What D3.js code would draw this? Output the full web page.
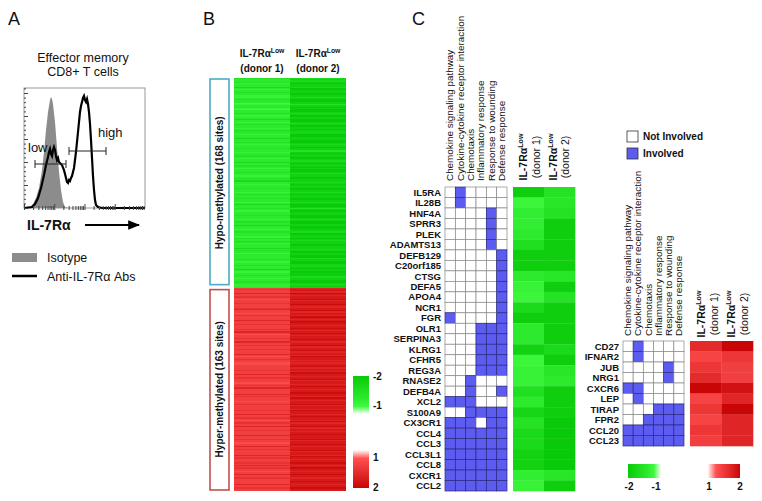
<!DOCTYPE html>
<html><head><meta charset="utf-8">
<script src="https://cdn.jsdelivr.net/npm/d3@7"></script>
<style>body{margin:0;background:#fff}svg{display:block}text{font-family:Arial,"Liberation Sans",sans-serif;fill:#111}</style>
</head><body><svg id="c" width="762" height="501"></svg>
<script>
// ---------------- DATA ----------------
// Panel A histogram (channel, count)
const isoX=[0,6,9,12,15,18,20,22,24,26,27,28,29,31,33,35,37,39,41,44,121];
const isoY=[0,1,4,10,20,38,56,78,96,108,111,109,104,86,60,36,18,6,1,0,0];
const abX=[0,8,11,14,17,20,22,24,25,26,27,28,29,30,31,32,33,34,35,36,38,40,42,43,44,45,46,47,48,49,50,51,52,53,54,55,56,57,58,59,60,61,62,63,64,65,66,67,68,69,70,71,72,74,78,121];
const abY=[0,1,4,10,20,33,43,51,56,59,54,52,58,61,58,52,48,50,46,45,43,38,30,26,25,28,27,30,32,36,40,48,56,66,76,86,96,102,106,110,112,108,106,109,104,96,84,68,50,32,18,8,3,1,0,0];
const gateLabels=["low","high"];
const gateLow=[11,42], gateHigh=[45,82];
const legendA=["Isotype","Anti-IL-7Rα Abs"];

// Panel B heatmap (log ratios)
const hypoDonor1=[-1.6,-1.5,-1.5,-1.6,-1.4,-1.5,-1.5,-1.7,-1.5,-1.4,-1.5,-1.6,
-1.5,-1.5,-1.4,-1.4,-1.5,-1.6,-1.5,-1.5,-1.3,-1.4,-1.5,-1.5,
-1.4,-1.3,-1.5,-1.5,-1.6,-1.5,-1.4,-1.5,-1.5,-1.7,-1.5,-1.4,
-1.5,-1.6,-1.5,-1.5,-1.4,-1.5,-1.6,-1.5,-1.5,-1.4,-1.5,-1.5,
-1.7,-1.5,-1.5,-1.6,-1.5,-1.4,-1.5,-1.5,-1.6,-1.5,-1.5,-1.4,
-1.5,-1.5,-1.6,-1.5,-1.4,-1.5,-1.5,-1.7,-1.5,-1.5,-1.6,-1.5,
-1.4,-1.5,-1.5,-1.6,-1.5,-1.5,-1.4,-1.5,-1.6,-1.5,-1.7,-1.5,
-1.5,-1.4,-1.5,-1.5,-1.6,-1.5,-1.5,-1.4,-1.5,-1.6,-1.5,-1.5,
-1.6,-1.5,-1.5,-1.4,-1.5,-1.7,-1.5,-1.5,-1.6,-1.5,-1.4,-1.5,
-1.5,-1.5,-1.6,-1.5,-1.5,-1.4,-1.5,-1.6,-1.5,-1.5,-1.7,-1.5,
-1.5,-1.4,-1.5,-1.6,-1.5,-1.5,-1.5,-1.4,-1.6,-1.5,-1.5,-1.6,
-1.4,-1.5,-1.5,-1.5,-1.7,-1.5,-1.6,-1.5,-1.4,-1.5,-1.5,-1.5,
-1.5,-1.6,-1.5,-1.4,-1.5,-1.5,-1.6,-1.5,-1.5,-1.7,-1.5,-1.4,
-1.5,-1.5,-1.6,-1.5,-1.4,-1.5,-1.5,-1.6,-1.5,-1.5,-1.4,-1.5];
const hypoDonor2=[-1.7,-1.8,-1.7,-1.8,-1.9,-1.8,-1.8,-1.7,-1.9,-1.9,-1.8,-1.8,
-1.9,-1.9,-1.8,-1.7,-1.8,-1.9,-1.9,-1.8,-1.8,-1.6,-1.8,-1.9,
-1.8,-1.9,-1.9,-1.8,-1.7,-1.8,-1.9,-1.8,-1.8,-1.9,-1.9,-1.8,
-1.7,-1.8,-1.9,-1.8,-1.8,-1.9,-1.8,-1.7,-1.8,-1.9,-1.9,-1.8,
-1.8,-1.8,-1.9,-1.9,-1.8,-1.7,-1.8,-1.9,-1.8,-1.8,-1.6,-1.8,
-1.9,-1.8,-1.8,-1.9,-1.9,-1.8,-1.7,-1.8,-1.9,-1.8,-1.8,-1.9,
-1.8,-1.9,-1.9,-1.8,-1.7,-1.8,-1.8,-1.9,-1.9,-1.8,-1.8,-1.7,
-1.8,-1.9,-1.8,-1.8,-1.9,-1.9,-1.8,-1.7,-1.8,-1.9,-1.8,-1.8,
-1.9,-1.9,-1.8,-1.7,-1.8,-1.9,-1.9,-1.8,-1.6,-1.8,-1.9,-1.8,
-1.8,-1.8,-1.9,-1.9,-1.8,-1.7,-1.8,-1.9,-1.9,-1.8,-1.8,-1.9,
-1.9,-1.8,-1.8,-1.7,-1.9,-1.9,-1.8,-1.8,-1.9,-1.8,-1.7,-1.8,
-1.8,-1.9,-1.9,-1.8,-1.8,-1.7,-1.8,-1.9,-1.8,-1.8,-1.9,-1.9,
-1.7,-1.8,-1.8,-1.9,-1.9,-1.8,-1.7,-1.8,-1.9,-1.8,-1.8,-1.9,
-1.8,-1.9,-1.8,-1.7,-1.8,-1.8,-1.9,-1.9,-1.8,-1.7,-1.8,-1.8];
const hyperDonor1=[1.5,1.6,1.5,1.5,1.7,1.5,1.5,1.6,1.5,1.4,1.5,1.5,
1.6,1.5,1.5,1.5,1.6,1.7,1.5,1.5,1.4,1.5,1.6,1.5,
1.5,1.5,1.7,1.5,1.5,1.6,1.5,1.5,1.5,1.6,1.5,1.7,
1.5,1.4,1.5,1.5,1.6,1.5,1.5,1.7,1.5,1.5,1.6,1.5,
1.5,1.6,1.5,1.5,1.5,1.7,1.5,1.4,1.5,1.6,1.5,1.5,
1.4,1.4,1.5,1.5,1.5,1.5,1.6,1.5,1.5,1.7,1.5,1.5,
1.6,1.5,1.5,1.5,1.4,1.5,1.6,1.5,1.7,1.5,1.5,1.5,
1.5,1.7,1.5,1.6,1.5,1.5,1.5,1.4,1.5,1.6,1.5,1.5,
1.5,1.5,1.6,1.5,1.5,1.7,1.5,1.5,1.6,1.5,1.4,1.5,
1.6,1.5,1.5,1.7,1.5,1.5,1.6,1.5,1.5,1.5,1.7,1.5,
1.5,1.6,1.5,1.5,1.4,1.5,1.5,1.7,1.5,1.6,1.5,1.5,
1.5,1.5,1.7,1.5,1.6,1.5,1.5,1.5,1.6,1.5,1.7,1.5,
1.6,1.5,1.5,1.4,1.5,1.7,1.5,1.5,1.6,1.5,1.5,1.5,
1.5,1.7,1.5,1.5,1.6,1.5,1.5];
const hyperDonor2=[1.7,1.8,1.8,1.7,1.9,1.8,1.7,1.8,1.8,1.9,1.7,1.8,
1.8,1.9,1.8,1.7,1.8,1.8,1.9,1.7,1.8,1.8,1.7,1.9,
1.8,1.7,1.8,1.9,1.8,1.8,1.7,1.8,1.9,1.8,1.7,1.8,
1.9,1.8,1.7,1.8,1.8,1.9,1.8,1.7,1.8,1.8,1.9,1.7,
1.8,1.8,1.9,1.7,1.8,1.8,1.7,1.9,1.8,1.8,1.7,1.8,
1.7,1.8,1.8,1.9,1.7,1.8,1.8,1.7,1.9,1.8,1.8,1.7,
1.8,1.9,1.7,1.8,1.8,1.7,1.8,1.9,1.8,1.7,1.8,1.8,
1.9,1.8,1.8,1.7,1.9,1.8,1.7,1.8,1.8,1.9,1.7,1.8,
1.8,1.7,1.9,1.8,1.8,1.7,1.8,1.9,1.8,1.8,1.7,1.9,
1.7,1.8,1.8,1.9,1.7,1.8,1.8,1.7,1.8,1.9,1.8,1.8,
1.8,1.9,1.7,1.8,1.8,1.9,1.8,1.7,1.8,1.8,1.9,1.7,
1.8,1.8,1.7,1.9,1.8,1.7,1.8,1.8,1.9,1.8,1.7,1.8,
1.9,1.8,1.8,1.7,1.8,1.9,1.8,1.8,1.7,1.8,1.8,1.9,
1.8,1.7,1.8,1.8,1.9,1.8,1.8];
const groupLabels=["Hypo-methylated (168 sites)","Hyper-methylated (163 sites)"];
const donorLabels=["(donor 1)","(donor 2)"];

// Panel C
const pathways=["Chemokine signaling pathway","Cytokine-cytokine receptor interaction","Chemotaxis","Inflammatory response","Response to wounding","Defense response"];
const genesDown=["IL5RA","IL28B","HNF4A","SPRR3","PLEK","ADAMTS13","DEFB129","C20orf185","CTSG","DEFA5","APOA4","NCR1","FGR","OLR1","SERPINA3","KLRG1","CFHR5","REG3A","RNASE2","DEFB4A","XCL2","S100A9","CX3CR1","CCL4","CCL3","CCL3L1","CCL8","CXCR1","CCL2"];
const involvedDown=[[1],[1],[4],[4],[4],[4],[5],[5],[5],[5],[5],[5],[0,5],[3,4,5],[3,4,5],[3,4,5],[3,4,5],[3,4,5],[2],[2,5],[0,1,2],[2,3,4,5],[0,1,2,4,5],[0,1,2,3,4,5],[0,1,2,3,4,5],[0,1,2,3,4,5],[0,1,2,3,4,5],[0,1,2,3,4,5],[0,1,2,3,4,5]];
const downDonor1=[-1.85,-1.35,-1.45,-1.45,-1.5,-1.65,-1.85,-1.85,-1.5,-1.4,-1.35,-1.7,-1.85,-1.5,-1.5,-1.8,-1.35,-1.4,-1.4,-1.65,-1.5,-1.75,-1.6,-1.7,-1.7,-1.8,-1.8,-1.45,-1.4];
const downDonor2=[-1.6,-1.55,-1.6,-1.85,-1.85,-1.85,-1.85,-1.85,-1.55,-1.85,-1.6,-1.85,-1.85,-1.85,-1.85,-1.7,-1.85,-1.55,-1.5,-1.85,-1.85,-1.85,-1.9,-1.9,-1.9,-1.9,-1.9,-1.55,-1.85];
const genesUp=["CD27","IFNAR2","JUB","NRG1","CXCR6","LEP","TIRAP","FPR2","CCL20","CCL23"];
const involvedUp=[[1],[1],[4],[4],[0,1],[1],[3,4,5],[2,3,4,5],[0,1,2,3,4,5],[0,1,2,3,4,5]];
const upDonor1=[1.65,1.45,1.55,1.65,1.95,1.45,1.55,1.45,1.55,1.5];
const upDonor2=[1.95,1.55,1.5,1.5,1.85,1.7,1.95,1.7,1.7,1.7];
const involvementLegend=["Not Involved","Involved"];

// ---------------- DRAW ----------------
const svg=d3.select("#c");
const blue="#5c5cf0";
const green=d3.scaleLinear().domain([-2,-1.3,-1]).range(["#00c200","#40fa40","#ffffff"]).clamp(true);
const red=d3.scaleLinear().domain([1,1.35,2]).range(["#ffffff","#ff5050","#c40000"]).clamp(true);

function panelLetter(t,x){svg.append("text").attr("x",x).attr("y",25).attr("font-size",18).text(t);}
panelLetter("A",8);panelLetter("B",203);panelLetter("C",412);

// ---- Panel A
const gA=svg.append("g");
gA.append("text").attr("x",83).attr("y",62).attr("text-anchor","middle").attr("font-size",12.5).text("Effector memory");
gA.append("text").attr("x",83).attr("y",76).attr("text-anchor","middle").attr("font-size",12.5).text("CD8+ T cells");
const hx=d3.scaleLinear().domain([0,121]).range([24,145]);
const hy=d3.scaleLinear().domain([0,120]).range([208,88]);
gA.append("rect").attr("x",24).attr("y",88).attr("width",121).attr("height",120).attr("fill","none").attr("stroke","#999").attr("stroke-width",1);
const isoData=isoX.map((x,i)=>[x,isoY[i]]);
gA.append("path").datum(isoData).attr("d",d3.area().x(d=>hx(d[0])).y0(hy(0)).y1(d=>hy(d[1]))).attr("fill","#8c8c8c");
const abData=abX.map((x,i)=>[x,abY[i]]);
gA.append("path").datum(abData).attr("d",d3.line().x(d=>hx(d[0])).y(d=>hy(d[1]))).attr("fill","none").attr("stroke","#000").attr("stroke-width",2.2);
const leftTicks=d3.range(0,121,4.6);
gA.append("g").attr("transform","translate(24,0)").call(d3.axisRight(hy).tickValues(leftTicks).tickSize(2).tickFormat("")).call(g=>{g.select(".domain").remove();g.selectAll("line").attr("stroke","#444").attr("x2",(d,i)=>i%5===0?4:2);});
const botTicks=[];[0,30.25,60.5,90.75].forEach(b=>{for(let k=1;k<10;k++)botTicks.push(b+30.25*Math.log10(k));});
gA.append("g").attr("transform","translate(0,208)").call(d3.axisTop(hx).tickValues(botTicks).tickSize(2).tickFormat("")).call(g=>{g.select(".domain").remove();g.selectAll("line").attr("stroke","#444").attr("y2",(d,i)=>i%9===0?-4:-2);});
gA.append("g").attr("transform","translate(0,208)").call(d3.axisBottom(hx).tickValues(botTicks).tickSize(2).tickFormat("")).call(g=>{g.select(".domain").remove();g.selectAll("line").attr("stroke","#444");});
function gate(r,yv){
  const y=hy(yv);
  gA.append("line").attr("x1",hx(r[0])).attr("x2",hx(r[1])).attr("y1",y).attr("y2",y).attr("stroke","#222").attr("stroke-width",1);
  r.forEach(v=>gA.append("line").attr("x1",hx(v)).attr("x2",hx(v)).attr("y1",y-4).attr("y2",y+4).attr("stroke","#222").attr("stroke-width",1));
}
gate(gateLow,44);gate(gateHigh,57);
gA.append("text").attr("x",28).attr("y",152).attr("font-size",13).text(gateLabels[0]);
gA.append("text").attr("x",98).attr("y",137).attr("font-size",13).text(gateLabels[1]);
gA.append("text").attr("x",27).attr("y",230).attr("font-size",14).attr("font-weight","bold").text("IL-7Rα");
svg.append("defs").html('<marker id="arr" viewBox="0 0 10 10" refX="9" refY="5" markerWidth="6" markerHeight="6" orient="auto"><path d="M0,1 L10,5 L0,9 z" fill="#000"/></marker>');
gA.append("line").attr("x1",85).attr("x2",139).attr("y1",225).attr("y2",225).attr("stroke","#000").attr("stroke-width",2).attr("marker-end","url(#arr)");
gA.append("rect").attr("x",12).attr("y",253).attr("width",25).attr("height",9).attr("fill","#8c8c8c");
gA.append("text").attr("x",47).attr("y",262).attr("font-size",12.5).text(legendA[0]);
gA.append("line").attr("x1",12).attr("x2",37).attr("y1",276).attr("y2",276).attr("stroke","#000").attr("stroke-width",2.5);
gA.append("text").attr("x",47).attr("y",281).attr("font-size",12.5).text(legendA[1]);

// ---- Panel B
const gB=svg.append("g");
const nHypo=hypoDonor1.length,nHyper=hyperDonor1.length;
const rowsB=d3.range(nHypo+nHyper);
const yB=d3.scaleBand().domain(rowsB).range([78,491]);
const xB=d3.scaleBand().domain([0,1]).range([234,346]);
const cellsB=[];
hypoDonor1.forEach((v,i)=>{cellsB.push({r:i,c:0,v,col:green(v)});cellsB.push({r:i,c:1,v:hypoDonor2[i],col:green(hypoDonor2[i])});});
hyperDonor1.forEach((v,i)=>{cellsB.push({r:nHypo+i,c:0,v,col:red(v)});cellsB.push({r:nHypo+i,c:1,v:hyperDonor2[i],col:red(hyperDonor2[i])});});
gB.selectAll("rect.hb").data(cellsB).join("rect").attr("x",d=>xB(d.c)).attr("y",d=>yB(d.r)).attr("width",xB.bandwidth()).attr("height",yB.bandwidth()+0.3).attr("fill",d=>d.col).attr("shape-rendering","crispEdges");
function headerLow(g,x,y,size,anchor){
  const t=g.append("text").attr("x",x).attr("y",y).attr("font-size",size).attr("font-weight","bold").attr("text-anchor",anchor||"middle");
  t.append("tspan").text("IL-7Rα");
  t.append("tspan").attr("font-size",size*0.68).attr("dy",-size*0.38).text("Low");
  return t;
}
[0,1].forEach(c=>{
  const cx=xB(c)+xB.bandwidth()/2;
  headerLow(gB,cx,57,10);
  gB.append("text").attr("x",cx).attr("y",72).attr("text-anchor","middle").attr("font-size",10).attr("font-weight","bold").text(donorLabels[c]);
});
const yHypoTop=yB(0),yHypoBot=yB(nHypo-1)+yB.bandwidth(),yHyperTop=yB(nHypo),yHyperBot=yB(nHypo+nHyper-1)+yB.bandwidth();
gB.append("rect").attr("x",210).attr("y",yHypoTop+1).attr("width",19).attr("height",yHypoBot-yHypoTop-4).attr("fill","none").attr("stroke","#4bacc6").attr("stroke-width",1.6);
gB.append("rect").attr("x",210).attr("y",yHyperTop+2).attr("width",19).attr("height",yHyperBot-yHyperTop-3).attr("fill","none").attr("stroke","#c0504d").attr("stroke-width",1.6);
gB.append("text").attr("transform",`translate(223,${(yHypoTop+yHypoBot)/2}) rotate(-90)`).attr("text-anchor","middle").attr("font-size",10).attr("font-weight","bold").text(groupLabels[0]);
gB.append("text").attr("transform",`translate(223,${(yHyperTop+yHyperBot)/2}) rotate(-90)`).attr("text-anchor","middle").attr("font-size",10).attr("font-weight","bold").text(groupLabels[1]);

// gradients (legend): solid colour for most of the bar, fading to white near the ±1 end
const defs=svg.select("defs");
function grad(id,stops,vertical){
  const lg=defs.append("linearGradient").attr("id",id).attr("x1",0).attr("y1",0).attr("x2",vertical?0:1).attr("y2",vertical?1:0);
  stops.forEach(([o,c])=>lg.append("stop").attr("offset",o).attr("stop-color",c));
}
grad("gV",[[0,green(-1.9)],[0.6,green(-1.5)],[0.8,green(-1.3)],[1,"#ffffff"]],true);
grad("rV",[[0,"#ffffff"],[0.22,red(1.35)],[0.6,red(1.65)],[1,red(1.95)]],true);
grad("gH",[[0,green(-1.9)],[0.55,green(-1.5)],[0.72,green(-1.3)],[0.92,"#ffffff"],[1,"#ffffff"]],false);
grad("rH",[[0,"#ffffff"],[0.12,"#ffffff"],[0.35,red(1.35)],[0.7,red(1.65)],[1,red(1.95)]],false);
gB.append("rect").attr("x",353).attr("y",376).attr("width",16).attr("height",38).attr("fill","url(#gV)");
gB.append("rect").attr("x",353).attr("y",450).attr("width",16).attr("height",38).attr("fill","url(#rV)");
[["-2",380],["-1",409],["1",461],["2",491]].forEach(([t,y])=>gB.append("text").attr("x",373).attr("y",y).attr("font-size",10).attr("font-weight","bold").text(t));

// ---- Panel C
function matrixPanel(genes,involved,d1,d2,x0,x1,y0,y1,hx0,hx1,labelBottom,hdrMid,hdrX){
  const g=svg.append("g");
  const xm=d3.scaleBand().domain(d3.range(pathways.length)).range([x0,x1]);
  const ym=d3.scaleBand().domain(genes).range([y0,y1]);
  const cells=[];
  genes.forEach((gname,i)=>pathways.forEach((p,j)=>cells.push({g:gname,j,on:involved[i].includes(j)})));
  g.selectAll("rect.m").data(cells).join("rect").attr("x",d=>xm(d.j)).attr("y",d=>ym(d.g)).attr("width",xm.bandwidth()).attr("height",ym.bandwidth()).attr("fill",d=>d.on?blue:"#fff").attr("stroke",d=>d.on?"#2a2a80":"#888").attr("stroke-width",0.7);
  g.selectAll("text.gn").data(genes).join("text").attr("x",x0-4).attr("y",d=>ym(d)+ym.bandwidth()/2+3.4).attr("text-anchor","end").attr("font-size",9.5).attr("font-weight","bold").text(d=>d);
  g.selectAll("text.pw").data(pathways).join("text").attr("transform",(d,j)=>`translate(${xm(j)+xm.bandwidth()/2+3.2},${labelBottom}) rotate(-90)`).attr("font-size",9.9).text(d=>d);
  const xh=d3.scaleBand().domain([0,1]).range([hx0,hx1]);
  const hc=[];genes.forEach((gname,i)=>{hc.push({g:gname,c:0,v:d1[i]});hc.push({g:gname,c:1,v:d2[i]});});
  g.selectAll("rect.h").data(hc).join("rect").attr("x",d=>xh(d.c)).attr("y",d=>ym(d.g)).attr("width",xh.bandwidth()+0.3).attr("height",ym.bandwidth()+0.3).attr("fill",d=>d.v<0?green(d.v):red(d.v));
  [0,1].forEach(c=>{
    const t=headerLow(g,0,0,10.5);t.attr("transform",`translate(${hdrX[c][0]},${hdrMid}) rotate(-90)`);
    g.append("text").attr("transform",`translate(${hdrX[c][1]},${hdrMid}) rotate(-90)`).attr("text-anchor","middle").attr("font-size",10.5).text(donorLabels[c]);
  });
  return g;
}
matrixPanel(genesDown,involvedDown,downDonor1,downDonor2,445,507,187,491,513,575,181,157,[[527,540],[557,569]]);
matrixPanel(genesUp,involvedUp,upDonor1,upDonor2,623,684,341,446,690,753,336,314,[[705,718],[735,748]]);

// involvement legend
const gL=svg.append("g");
involvementLegend.forEach((t,i)=>{
  gL.append("rect").attr("x",627).attr("y",131+i*17).attr("width",11).attr("height",11).attr("fill",i?blue:"#fff").attr("stroke","#333").attr("stroke-width",0.8);
  gL.append("text").attr("x",643).attr("y",140+i*17).attr("font-size",10).attr("font-weight","bold").text(t);
});
gL.append("rect").attr("x",628).attr("y",464).attr("width",36).attr("height",14).attr("fill","url(#gH)");
gL.append("rect").attr("x",703).attr("y",464).attr("width",37).attr("height",14).attr("fill","url(#rH)");
[["-2",629],["-1",656],["1",709],["2",740]].forEach(([t,x])=>gL.append("text").attr("x",x).attr("y",490).attr("text-anchor","middle").attr("font-size",10).attr("font-weight","bold").text(t));
</script></body></html>
